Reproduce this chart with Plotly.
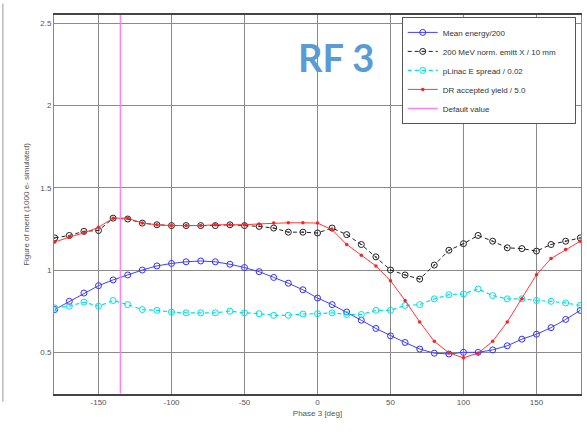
import plotly.graph_objects as go

# Phase scan of RF cavity 3, figures of merit vs phase [deg]
phase = [-180, -170, -160, -150, -140, -130, -120, -110, -100, -90, -80, -70, -60,
         -50, -40, -30, -20, -10, 0, 10, 20, 30, 40, 50, 60, 70, 80, 90, 100,
         110, 120, 130, 140, 150, 160, 170, 180]

mean_energy = [0.76, 0.81, 0.86, 0.905, 0.94, 0.97, 1.0, 1.025, 1.04, 1.05, 1.055, 1.05, 1.035,
               1.015, 0.99, 0.955, 0.92, 0.88, 0.83, 0.79, 0.745, 0.695, 0.645, 0.6, 0.56,
               0.52, 0.495, 0.49, 0.5, 0.5, 0.515, 0.54, 0.58, 0.61, 0.65, 0.7, 0.755]

emitt_x = [1.195, 1.21, 1.235, 1.24, 1.315, 1.31, 1.285, 1.275, 1.27, 1.27, 1.27, 1.27, 1.275,
           1.27, 1.265, 1.255, 1.23, 1.23, 1.225, 1.255, 1.215, 1.155, 1.08, 1.0, 0.97,
           0.945, 1.03, 1.12, 1.16, 1.21, 1.175, 1.135, 1.13, 1.115, 1.155, 1.175, 1.195]

e_spread = [0.77, 0.78, 0.805, 0.78, 0.815, 0.79, 0.76, 0.755, 0.745, 0.74, 0.74, 0.74, 0.75,
            0.74, 0.735, 0.725, 0.725, 0.733, 0.735, 0.74, 0.73, 0.73, 0.755, 0.755, 0.785,
            0.79, 0.825, 0.85, 0.855, 0.885, 0.845, 0.825, 0.825, 0.815, 0.81, 0.8, 0.785]

dr_yield = [1.17, 1.2, 1.225, 1.26, 1.315, 1.315, 1.285, 1.275, 1.27, 1.27, 1.27, 1.275, 1.275,
            1.275, 1.28, 1.285, 1.287, 1.287, 1.285, 1.245, 1.155, 1.09, 1.025, 0.935, 0.815,
            0.685, 0.567, 0.497, 0.467, 0.495, 0.567, 0.685, 0.825, 0.972, 1.07, 1.125, 1.175]

default_phase = -135

x_ticks = [-150, -100, -50, 0, 50, 100, 150]
x_tick_text = ["-150", "-100", "-50", "0", "50", "100", "150"]
y_ticks = [0.5, 1, 1.5, 2, 2.5]
y_tick_text = ["0.5", "1", "1.5", "2", "2.5"]

FONT = "Liberation Sans, Arial, sans-serif"
PAD = "\u00a0" * 6  # extra room on the right of the legend box

fig = go.Figure()

fig.add_trace(go.Scatter(
    x=phase, y=mean_energy, name="Mean energy/200", mode="lines+markers",
    line=dict(color="#4040ff", width=1),
    marker=dict(symbol="circle-open", size=6, color="#3030ff", line=dict(width=1)),
    legendgroup="g1"))
fig.add_trace(go.Scatter(
    x=phase, y=emitt_x, name="200 MeV norm. emitt X / 10 mm" + PAD, mode="lines+markers",
    line=dict(color="#202020", width=1, dash="4px,3px"),
    marker=dict(symbol="circle-open-dot", size=6, color="#202020", line=dict(width=1)),
    legendgroup="g2"))
fig.add_trace(go.Scatter(
    x=phase, y=e_spread, name="pLinac E spread / 0.02", mode="lines+markers",
    line=dict(color="#00e0e8", width=1.2, dash="4px,3px"),
    marker=dict(symbol="circle-open", size=6, color="#00e0e8", line=dict(width=1)),
    legendgroup="g3"))
fig.add_trace(go.Scatter(
    x=phase, y=dr_yield, name="DR accepted yield / 5.0", mode="lines+markers",
    line=dict(color="#ff3838", width=1),
    marker=dict(symbol="circle", size=3.5, color="#ff2020"),
    legendgroup="g4"))
fig.add_trace(go.Scatter(
    x=[default_phase, default_phase], y=[0.25, 2.55], name="Default value", mode="lines",
    line=dict(color="#ff80ff", width=1.5),
    legendgroup="g5"))

# darker grid lines at -50 and 100 deg
for xv in (-50, 100):
    fig.add_shape(type="line", xref="x", yref="paper", x0=xv, x1=xv, y0=0, y1=1,
                  line=dict(color="#222222", width=1), layer="below")

# frame edge of the neighbouring panel on the left
fig.add_shape(type="line", xref="paper", yref="paper", x0=-0.097, x1=-0.097, y0=-0.02, y1=1.03,
              line=dict(color="#999999", width=1))

fig.add_annotation(text="<b>RF 3</b>", x=0.536, y=0.889, xref="paper", yref="paper",
                   xanchor="center", yanchor="middle", showarrow=False,
                   font=dict(family="Lato, Open Sans, sans-serif", size=38, color="#5b9bd5"))

fig.update_layout(
    width=587, height=434,
    margin=dict(l=54, r=6, t=15, b=40),
    paper_bgcolor="white", plot_bgcolor="white",
    font=dict(family=FONT, size=8, color="#555555"),
    showlegend=True,
    legend=dict(x=0.99, y=0.995, xanchor="right", yanchor="top",
                bgcolor="white", bordercolor="#555555", borderwidth=1,
                font=dict(family=FONT, size=8, color="#333333"),
                tracegroupgap=0),
    xaxis=dict(range=[-180.5, 180.5], tickvals=x_ticks, ticktext=x_tick_text, showgrid=True,
               gridcolor="#8a8a8a", gridwidth=1, zeroline=False, showline=True,
               linecolor="#444444", linewidth=1.5, mirror=True, ticks="",
               tickfont=dict(size=8, color="#555555"),
               title=dict(text="Phase 3 [deg]", font=dict(size=8, color="#555555"), standoff=4)),
    yaxis=dict(range=[0.247, 2.549], tickvals=y_ticks, ticktext=y_tick_text, showgrid=True,
               gridcolor="#8a8a8a", gridwidth=1, zeroline=False, showline=True,
               linecolor="#888888", linewidth=1, mirror=True, ticks="",
               tickfont=dict(size=8, color="#555555"),
               title=dict(text="Figure of merit (1000 e- simulated)",
                          font=dict(size=8, color="#555555"), standoff=9)),
)

fig.write_html("out.html")
